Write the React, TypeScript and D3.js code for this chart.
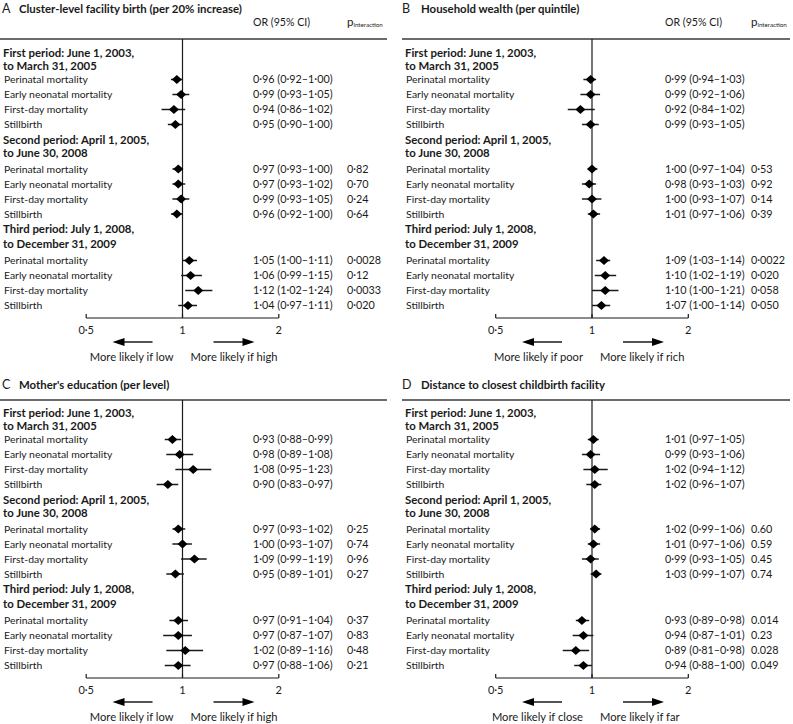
import React from "react";
import * as d3 from "d3";

// ---------- data ----------
const outcomes = ["Perinatal mortality", "Early neonatal mortality", "First-day mortality", "Stillbirth"];
const periodFirstLines = ["First period: June 1, 2003,", "Second period: April 1, 2005,", "Third period: July 1, 2008,"];
const periodSecondLines = ["to March 31, 2005", "to June 30, 2008", "to December 31, 2009"];
const panelLetters = ["A", "B", "C", "D"];
const panelTitles = [
  "Cluster-level facility birth (per 20% increase)",
  "Household wealth (per quintile)",
  "Mother's education (per level)",
  "Distance to closest childbirth facility",
];
const showColumnHeader = [true, true, false, false];
const lowLabels = ["More likely if low", "More likely if poor", "More likely if low", "More likely if close"];
const highLabels = ["More likely if high", "More likely if rich", "More likely if high", "More likely if far"];
const tickValues = [0.5, 1, 2];
const tickLabels = ["0·5", "1", "2"];

// Panel A: cluster-level facility birth
const orA = [0.96, 0.99, 0.94, 0.95, 0.97, 0.97, 0.99, 0.96, 1.05, 1.06, 1.12, 1.04];
const loA = [0.92, 0.93, 0.86, 0.9, 0.93, 0.93, 0.93, 0.92, 1.0, 0.99, 1.02, 0.97];
const hiA = [1.0, 1.05, 1.02, 1.0, 1.0, 1.02, 1.05, 1.0, 1.11, 1.15, 1.24, 1.11];
const pA = ["", "", "", "", "0·82", "0·70", "0·24", "0·64", "0·0028", "0·12", "0·0033", "0·020"];

// Panel B: household wealth
const orB = [0.99, 0.99, 0.92, 0.99, 1.0, 0.98, 1.0, 1.01, 1.09, 1.1, 1.1, 1.07];
const loB = [0.94, 0.92, 0.84, 0.93, 0.97, 0.93, 0.93, 0.97, 1.03, 1.02, 1.0, 1.0];
const hiB = [1.03, 1.06, 1.02, 1.05, 1.04, 1.03, 1.07, 1.06, 1.14, 1.19, 1.21, 1.14];
const pB = ["", "", "", "", "0·53", "0·92", "0·14", "0·39", "0·0022", "0·020", "0·058", "0·050"];

// Panel C: mother's education
const orC = [0.93, 0.98, 1.08, 0.9, 0.97, 1.0, 1.09, 0.95, 0.97, 0.97, 1.02, 0.97];
const loC = [0.88, 0.89, 0.95, 0.83, 0.93, 0.93, 0.99, 0.89, 0.91, 0.87, 0.89, 0.88];
const hiC = [0.99, 1.08, 1.23, 0.97, 1.02, 1.07, 1.19, 1.01, 1.04, 1.07, 1.16, 1.06];
const pC = ["", "", "", "", "0·25", "0·74", "0·96", "0·27", "0·37", "0·83", "0·48", "0·21"];

// Panel D: distance to closest childbirth facility
const orD = [1.01, 0.99, 1.02, 1.02, 1.02, 1.01, 0.99, 1.03, 0.93, 0.94, 0.89, 0.94];
const loD = [0.97, 0.93, 0.94, 0.96, 0.99, 0.97, 0.93, 0.99, 0.89, 0.87, 0.81, 0.88];
const hiD = [1.05, 1.06, 1.12, 1.07, 1.06, 1.06, 1.05, 1.07, 0.98, 1.01, 0.98, 1.0];
const pD = ["", "", "", "", "0.60", "0.59", "0.45", "0.74", "0.014", "0.23", "0.028", "0.049"];

const panelOR = [orA, orB, orC, orD];
const panelLo = [loA, loB, loC, loD];
const panelHi = [hiA, hiB, hiC, hiD];
const panelP = [pA, pB, pC, pD];

// ---------- layout ----------
const W = 793;
const H = 724;
const FONT = "'Lato', sans-serif";
const INK = "#1a1a1a";

const columns = [
  { letterX: 2, titleX: 19, labelX: 4, refX: 182.5, orX: 253, pX: 347, ruleX0: 0, ruleX1: 387 },
  { letterX: 402, titleX: 421, labelX: 406, refX: 592, orX: 665, pX: 751, ruleX0: 402, ruleX1: 790 },
];
const rowsTop = [0, 360];
const line1Y = [53, 140, 229];
const line2Y = [66, 153, 244];
const itemStartY = [79.5, 169, 260.5];
const itemStep = 15;
const axisY = 318;

const LABEL_FS = 10.4;
const NUM_FS = 10.8;
const BOLD_FS = 11.4;

const fmt = (v: number) => d3.format(".2f")(v).replace(".", "·");

function Panel({ idx }: { idx: number }) {
  const col = columns[idx % 2];
  const top = rowsTop[Math.floor(idx / 2)];
  const hasHeader = showColumnHeader[idx];
  const ruleY = top + (hasHeader ? 39 : 40);
  const titleY = top + (hasHeader ? 12.5 : 29);

  const x = d3
    .scaleLog()
    .domain([0.5, 2])
    .range([col.refX - 96.3, col.refX + 96.3]);

  const ors = panelOR[idx];
  const los = panelLo[idx];
  const his = panelHi[idx];
  const ps = panelP[idx];

  const rows = ors.map((or, i) => {
    const period = Math.floor(i / 4);
    const k = i % 4;
    return {
      or,
      lo: los[i],
      hi: his[i],
      p: ps[i],
      label: outcomes[k],
      y: top + itemStartY[period] + k * itemStep,
    };
  });

  const ay = top + axisY;
  const diamond = (cx: number, cy: number) => {
    const p = d3.path();
    p.moveTo(cx - 5, cy);
    p.lineTo(cx, cy - 4.6);
    p.lineTo(cx + 5, cy);
    p.lineTo(cx, cy + 4.6);
    p.closePath();
    return p.toString();
  };

  const arrowHead = (tip: number, dir: number) => {
    const p = d3.path();
    p.moveTo(tip, ay + 24);
    p.lineTo(tip - dir * 12, ay + 20);
    p.lineTo(tip - dir * 12, ay + 28);
    p.closePath();
    return p.toString();
  };

  return (
    <g fontFamily={FONT} fill={INK}>
      <text x={col.letterX} y={titleY} fontSize={12.5}>
        {panelLetters[idx]}
      </text>
      <text x={col.titleX} y={titleY} fontSize={11.4} fontWeight={700}>
        {panelTitles[idx]}
      </text>
      {hasHeader && (
        <g>
          <text x={col.orX} y={top + 26} fontSize={10.6}>
            OR (95% CI)
          </text>
          <text x={col.pX} y={top + 26} fontSize={11.5}>
            p<tspan fontSize={6.2} dy={1}>interaction</tspan>
          </text>
        </g>
      )}
      <line x1={col.ruleX0} x2={col.ruleX1} y1={ruleY} y2={ruleY} stroke="#3a3a3a" strokeWidth={1.3} />
      <line x1={col.refX} x2={col.refX} y1={ruleY} y2={ay} stroke={INK} strokeWidth={1.2} />

      {periodFirstLines.map((t, j) => (
        <g key={t}>
          <text x={col.labelX - 1} y={top + line1Y[j]} dy="0.35em" fontSize={BOLD_FS} fontWeight={700}>
            {t}
          </text>
          <text x={col.labelX - 1} y={top + line2Y[j]} dy="0.35em" fontSize={BOLD_FS} fontWeight={700}>
            {periodSecondLines[j]}
          </text>
        </g>
      ))}

      {rows.map((r, i) => (
        <g key={i}>
          <text x={col.labelX} y={r.y} dy="0.35em" fontSize={LABEL_FS}>
            {r.label}
          </text>
          <line x1={x(r.lo)} x2={x(r.hi)} y1={r.y} y2={r.y} stroke={INK} strokeWidth={1.5} />
          <path d={diamond(x(r.or), r.y)} fill="#000" />
          <text x={col.orX} y={r.y} dy="0.35em" fontSize={NUM_FS}>
            {`${fmt(r.or)} (${fmt(r.lo)}–${fmt(r.hi)})`}
          </text>
          {r.p && (
            <text x={col.pX} y={r.y} dy="0.35em" fontSize={NUM_FS}>
              {r.p}
            </text>
          )}
        </g>
      ))}

      {/* axis */}
      <line x1={x(0.5)} x2={x(2)} y1={ay} y2={ay} stroke={INK} strokeWidth={1.2} />
      {tickValues.map((t, i) => (
        <g key={t}>
          <line x1={x(t)} x2={x(t)} y1={ay} y2={ay - 4} stroke={INK} strokeWidth={1.2} />
          <text x={x(t)} y={ay + 12} dy="0.35em" fontSize={11} textAnchor="middle">
            {tickLabels[i]}
          </text>
        </g>
      ))}

      {/* direction arrows */}
      <line x1={col.refX - 30} x2={col.refX - 60} y1={ay + 24} y2={ay + 24} stroke={INK} strokeWidth={1.5} />
      <path d={arrowHead(col.refX - 70, -1)} fill="#000" />
      <line x1={col.refX + 31} x2={col.refX + 62} y1={ay + 24} y2={ay + 24} stroke={INK} strokeWidth={1.5} />
      <path d={arrowHead(col.refX + 72, 1)} fill="#000" />
      <text x={col.refX - 9} y={ay + 39} dy="0.35em" fontSize={11.2} textAnchor="end">
        {lowLabels[idx]}
      </text>
      <text x={col.refX + 8} y={ay + 39} dy="0.35em" fontSize={11.2}>
        {highLabels[idx]}
      </text>
    </g>
  );
}

export default function App() {
  return (
    <div style={{ position: "absolute", left: 0, top: 0 }}>
      <svg width={W} height={H} viewBox={`0 0 ${W} ${H}`} style={{ display: "block", background: "#fff" }}>
        {[0, 1, 2, 3].map((i) => (
          <Panel key={i} idx={i} />
        ))}
      </svg>
    </div>
  );
}
